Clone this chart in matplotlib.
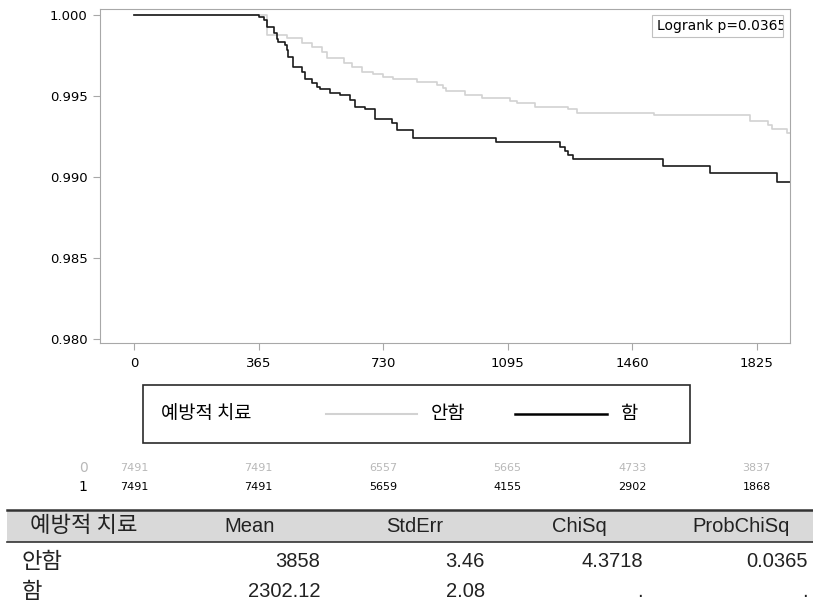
import matplotlib
matplotlib.use('Agg')
import matplotlib.pyplot as plt
from matplotlib.patches import Rectangle
from matplotlib.lines import Line2D
import matplotlib.transforms as mtrans

W, H = 813, 604

# ---------------- data ----------------
legend_title = '예방적 치료'
group_labels = ['안함', '함']

time_no = [0, 390, 448, 492, 521, 550, 565, 614, 638, 667, 701, 731, 760, 829, 887,
           907, 915, 970, 1019, 1102, 1122, 1175, 1273, 1299, 1525, 1806, 1859, 1869,
           1913, 1925]
surv_no = [1.0, 0.99877, 0.99856, 0.99829, 0.99804, 0.99774, 0.99733, 0.99706, 0.99681,
           0.99650, 0.99636, 0.99619, 0.99603, 0.99588, 0.99568, 0.99549, 0.99531,
           0.99506, 0.99490, 0.99471, 0.99459, 0.99434, 0.99418, 0.99397, 0.99383,
           0.99348, 0.99321, 0.99296, 0.99274, 0.99274]

time_yes = [0, 367, 381, 389, 410, 418, 422, 443, 447, 451, 466, 492, 501, 521, 536,
            545, 575, 604, 633, 648, 677, 706, 756, 771, 818, 1060, 1249, 1263, 1273,
            1288, 1551, 1688, 1884, 1925]
surv_yes = [1.0, 0.99986, 0.99969, 0.99924, 0.99887, 0.99850, 0.99835, 0.99815, 0.99784,
            0.99743, 0.99681, 0.99650, 0.99603, 0.99582, 0.99557, 0.99541, 0.99520,
            0.99506, 0.99475, 0.99434, 0.99418, 0.99356, 0.99332, 0.99287, 0.99243,
            0.99218, 0.99183, 0.99161, 0.99136, 0.99109, 0.99070, 0.99027, 0.98971,
            0.98971]

x_ticks = [0, 365, 730, 1095, 1460, 1825]
y_ticks = [0.980, 0.985, 0.990, 0.995, 1.000]

risk_labels = ['0', '1']
risk_no = [7491, 7491, 6557, 5665, 4733, 3837]
risk_yes = [7491, 7491, 5659, 4155, 2902, 1868]

logrank_text = 'Logrank p=0.0365'

table_cols = ['예방적 치료', 'Mean', 'StdErr', 'ChiSq', 'ProbChiSq']
mean_vals = ['3858', '2302.12']
stderr_vals = ['3.46', '2.08']
chisq_vals = ['4.3718', '.']
prob_vals = ['0.0365', '.']

# ---------------- fonts ----------------
LAT = 'Liberation Sans'
KR = 'Noto Sans CJK KR'
plt.rcParams['font.family'] = ['DejaVu Sans', KR]

fig = plt.figure(figsize=(W / 100, H / 100), dpi=100)


def fx(x):
    return x / W


def fy(y):
    return 1 - y / H


# ---------------- KM plot ----------------
ax = fig.add_axes([fx(100), fy(342.7), 690 / W, 333.7 / H])
ax.step(time_no, surv_no, where='post', color='#d2d2d2', lw=1.2)
ax.step(time_yes, surv_yes, where='post', color='#1a1a1a', lw=1.2)
ax.set_xlim(-100, 1923)
ax.set_ylim(0.97977, 1.00037)
ax.set_xticks(x_ticks)
ax.set_xticklabels([str(t) for t in x_ticks])
ax.set_yticks(y_ticks)
ax.set_yticklabels(['%.3f' % v for v in y_ticks])
for s in ax.spines.values():
    s.set_color('#a8a8a8')
    s.set_linewidth(0.8)
ax.tick_params(axis='both', colors='#a8a8a8', labelcolor='black', length=5,
               width=0.8, labelsize=9.5)
ax.tick_params(axis='y', pad=4)
ax.tick_params(axis='x', pad=5)

# Logrank box (text clipped by the box)
lr = Rectangle((fx(651.7), fy(36.7)), (783.3 - 651.7) / W, (36.7 - 15) / H,
               transform=fig.transFigure, fill=False, ec='#c0c0c0', lw=0.8)
fig.add_artist(lr)
t = fig.text(fx(656.5), fy(26), logrank_text, fontsize=10, va='center', ha='left',
             family='DejaVu Sans')
t.set_clip_path(lr)

# ---------------- legend ----------------
fig.add_artist(Rectangle((fx(143), fy(442.7)), (690 - 143) / W, (442.7 - 385) / H,
                         transform=fig.transFigure, fill=False, ec='#2a2a2a', lw=1.2))
ly = fy(413.5)
fig.text(fx(161), ly, legend_title, fontsize=13.5, family=[KR], va='center', ha='left')
fig.add_artist(Line2D([fx(326), fx(417)], [ly, ly], transform=fig.transFigure,
                      color='#d2d2d2', lw=1.5))
fig.text(fx(431), ly, group_labels[0], fontsize=13.5, family=[KR], va='center', ha='left')
fig.add_artist(Line2D([fx(515), fx(607)], [ly, ly], transform=fig.transFigure,
                      color='#000000', lw=1.8))
fig.text(fx(620), ly, group_labels[1], fontsize=13.5, family=[KR], va='center', ha='left')

# ---------------- at-risk ----------------
bt = mtrans.blended_transform_factory(ax.transData, fig.transFigure)
for d, n0, n1 in zip(x_ticks, risk_no, risk_yes):
    fig.text(d, fy(468), str(n0), transform=bt, fontsize=8, color='#b8b8b8',
             ha='center', va='center')
    fig.text(d, fy(486.7), str(n1), transform=bt, fontsize=8, color='black',
             ha='center', va='center')
fig.text(fx(83), fy(468), risk_labels[0], fontsize=10, color='#b8b8b8', ha='center',
         va='center')
fig.text(fx(83), fy(486.7), risk_labels[1], fontsize=10, color='black', ha='center',
         va='center')

# ---------------- table ----------------
fig.add_artist(Rectangle((fx(7), fy(541.7)), (813 - 7) / W, (541.7 - 510) / H,
                         transform=fig.transFigure, fc='#d9d9d9', ec='none'))
fig.add_artist(Line2D([fx(7), fx(813)], [fy(510), fy(510)], transform=fig.transFigure,
                      color='#333333', lw=1.8))
fig.add_artist(Line2D([fx(7), fx(813)], [fy(541.7), fy(541.7)], transform=fig.transFigure,
                      color='#333333', lw=1.2))

hdr_x = [84, 250, 415, 579, 741]
for cx, lab in zip(hdr_x, table_cols):
    is_kr = any('\uac00' <= ch <= '\ud7a3' for ch in lab)
    fig.text(fx(cx), fy(526), lab, fontsize=16 if is_kr else 14.5,
             family=[KR] if is_kr else [LAT, KR], ha='center', va='center',
             color='#222222')

row_y = [561.7, 591.7]
col_right = [320, 485, 643, 808]
for i, ry in enumerate(row_y):
    fig.text(fx(22), fy(ry), group_labels[i], fontsize=16, family=[KR], ha='left',
             va='center', color='#222222')
    for cr, vals in zip(col_right, [mean_vals, stderr_vals, chisq_vals, prob_vals]):
        fig.text(fx(cr), fy(ry), vals[i], fontsize=14.5, family=[LAT, KR], ha='right',
                 va='center', color='#222222')

fig.savefig('out.png', dpi=100)
